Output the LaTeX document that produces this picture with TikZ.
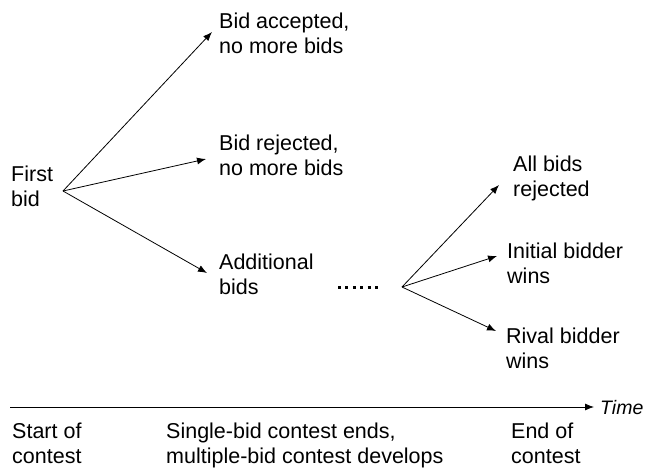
\documentclass[tikz,border=0pt]{standalone}
\usepackage{fontspec}
\setmainfont{Liberation Sans}
\usepackage{tikz}
\usetikzlibrary{arrows.meta}
\tikzset{
  testo/.style = {anchor = base west, align = left, inner sep = 0pt, font = \fontsize{21.5}{25}\selectfont},
  freccia/.style = {line width = 0.8pt, -{Latex[length = 9pt, width = 7pt]}}
}

\begin{document}
\begin{tikzpicture}[x = 1pt, y = -1pt]
    \useasboundingbox (0,0) rectangle (646,467);
    % Prima offerta
    \node[testo] (first) at (11,206) {First\\bid};
    \coordinate (r1) at (63,191);
    \coordinate (t1) at (212,32);
    \coordinate (t2) at (206,159);
    \coordinate (t3) at (207,273);
    \draw[freccia] (r1) -- (t1);
    \draw[freccia] (r1) -- (t2);
    \draw[freccia] (r1) -- (t3);
    \node[testo] (acc) at (219,53) {Bid accepted,\\no more bids};
    \node[testo] (rej) at (219,175) {Bid rejected,\\no more bids};
    \node[testo] (add) at (219,294) {Additional\\bids};
    % Puntini
    \coordinate (d1) at (338,287);
    \coordinate (d2) at (378,287);
    \draw[line width = 3pt, dash pattern = on 3pt off 4.4pt] (d1) -- (d2);
    % Esiti finali
    \coordinate (r2) at (402,287);
    \coordinate (s1) at (499,185);
    \coordinate (s2) at (497,256);
    \coordinate (s3) at (496,331);
    \draw[freccia] (r2) -- (s1);
    \draw[freccia] (r2) -- (s2);
    \draw[freccia] (r2) -- (s3);
    \node[testo] (all) at (513,196) {All bids\\rejected};
    \node[testo] (init) at (507,283) {Initial bidder\\wins};
    \node[testo] (rival) at (506,368) {Rival bidder\\wins};
    % Asse del tempo
    \coordinate (a) at (10,407);
    \coordinate (b) at (594,407);
    \draw[freccia] (a) -- (b);
    \node[testo, font = \fontsize{19.5}{25}\selectfont\itshape] (time) at (600,414) {Time};
    \node[testo] (start) at (12,463) {Start of\\contest};
    \node[testo] (single) at (166,463) {Single-bid contest ends,\\multiple-bid contest develops};
    \node[testo] (endc) at (511,463) {End of\\contest};
\end{tikzpicture}
\end{document}
